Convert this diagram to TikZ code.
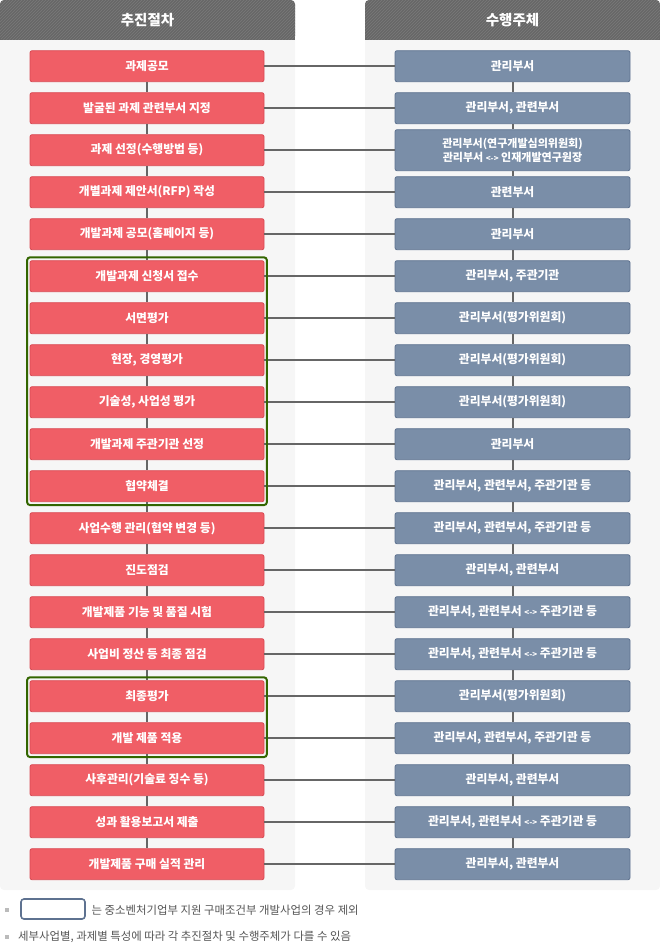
\documentclass[tikz,border=0pt]{standalone}
\usepackage{fontspec}
\setmainfont{Noto Sans CJK KR}
\usetikzlibrary{fit,patterns}
\definecolor{redF}{HTML}{F05E66}
\definecolor{redD}{HTML}{D94A53}
\definecolor{bluF}{HTML}{7A8EA8}
\definecolor{bluD}{HTML}{5E7290}
\definecolor{hdrF}{HTML}{676767}
\definecolor{hdrL}{HTML}{7A7A7A}
\definecolor{panF}{HTML}{F6F6F6}
\definecolor{lineC}{HTML}{666666}
\definecolor{grnC}{HTML}{336600}
\definecolor{txtC}{HTML}{555555}
\definecolor{bulC}{HTML}{BBBBBB}
\tikzset{
  lbox/.style={rectangle, fill=redF, draw=redD, line width=0.8pt, minimum width=234pt, minimum height=31pt, rounded corners=2pt, inner sep=0pt, text=white, font=\bfseries\fontsize{11.8}{13}\selectfont, align=center},
  rbox/.style={rectangle, fill=bluF, draw=bluD, line width=0.8pt, minimum width=235pt, minimum height=31pt, rounded corners=2pt, inner sep=0pt, text=white, font=\bfseries\fontsize{11.8}{13}\selectfont, align=center},
  conn/.style={draw=lineC, line width=2pt},
  gframe/.style={draw=grnC, line width=2pt, rounded corners=3pt, inner xsep=2.5pt, inner ysep=3pt},
  hdr/.style={text=white, font=\bfseries\fontsize{14.5}{16}\selectfont},
  note/.style={text=txtC, font=\fontsize{11.4}{13}\selectfont, anchor=west, inner sep=0pt},
  bul/.style={fill=bulC, draw=none, minimum size=4pt, inner sep=0pt},
}
\newcommand{\arr}{{\fontsize{8}{10}\selectfont <->}}
\begin{document}
\begin{tikzpicture}[x=1pt,y=-1pt]
\useasboundingbox (0,0) rectangle (660,952);
% panels
\fill[panF, rounded corners=4pt] (0,30) rectangle (295,890);
\fill[panF, rounded corners=4pt] (365,30) rectangle (660,890);
% headers
\fill[hdrF, rounded corners=4pt] (0,0) rectangle (295,40);
\fill[hdrF] (0,30) rectangle (295,40);
\fill[pattern=north east lines, pattern color=hdrL, rounded corners=4pt] (0,0) rectangle (295,40);
\fill[hdrF, rounded corners=4pt] (365,0) rectangle (660,40);
\fill[hdrF] (365,30) rectangle (660,40);
\fill[pattern=north east lines, pattern color=hdrL, rounded corners=4pt] (365,0) rectangle (660,40);
\node[hdr] (h1) at (147.5,20) {추진절차};
\node[hdr] (h2) at (512.5,20) {수행주체};
% left boxes
\foreach \i/\t in {0/과제공모, 1/발굴된 과제 관련부서 지정, 2/과제 선정(수행방법 등), 3/개별과제 제안서(RFP) 작성, 4/개발과제 공모(홈페이지 등), 5/개발과제 신청서 접수, 6/서면평가, 7/{현장, 경영평가}, 8/{기술성, 사업성 평가}, 9/개발과제 주관기관 선정, 10/협약체결, 11/사업수행 관리(협약 변경 등), 12/진도점검, 13/개발제품 기능 및 품질 시험, 14/사업비 정산 등 최종 점검, 15/최종평가, 16/개발 제품 적용, 17/사후관리(기술료 징수 등), 18/성과 활용보고서 제출, 19/개발제품 구매 실적 관리}
  \node[lbox] (l\i) at (147,66.2+42*\i) {\t};
% right boxes
\foreach \i/\t in {0/관리부서, 1/{관리부서, 관련부서}, 3/관련부서, 4/관리부서, 5/{관리부서, 주관기관}, 6/관리부서(평가위원회), 7/관리부서(평가위원회), 8/관리부서(평가위원회), 9/관리부서, 10/{관리부서, 관련부서, 주관기관 등}, 11/{관리부서, 관련부서, 주관기관 등}, 12/{관리부서, 관련부서}, 13/{관리부서, 관련부서 \arr{} 주관기관 등}, 14/{관리부서, 관련부서 \arr{} 주관기관 등}, 15/관리부서(평가위원회), 16/{관리부서, 관련부서, 주관기관 등}, 17/{관리부서, 관련부서}, 18/{관리부서, 관련부서 \arr{} 주관기관 등}, 19/{관리부서, 관련부서}}
  \node[rbox] (r\i) at (512.5,66.2+42*\i) {\t};
\node[rbox, minimum height=41pt, font=\bfseries\fontsize{11}{14.5}\selectfont] (r2) at (512.5,150.2) {관리부서(연구개발심의위원회)\\관리부서 \arr{} 인재개발연구원장};
% connectors
\foreach \i [evaluate=\i as \j using int(\i+1)] in {0,...,18} {
  \draw[conn] (l\i.south) -- (l\j.north);
  \draw[conn] (r\i.south) -- (r\j.north);
}
\foreach \i in {0,...,19}
  \draw[conn] (l\i.east) -- (l\i.east -| r\i.west);
% green frames
\node[gframe, fit=(l5)(l10)] (g1) {};
\node[gframe, fit=(l15)(l16)] (g2) {};
% legend
\node[bul] (b1) at (6.5,910) {};
\node[rectangle, draw=bluD, line width=1.6pt, fill=white, rounded corners=3pt, minimum width=64pt, minimum height=20pt, inner sep=0pt] (lg) at (53,909) {};
\node[note] (n1) at (91.5,910) {는 중소벤처기업부 지원 구매조건부 개발사업의 경우 제외};
\node[bul] (b2) at (6.5,937) {};
\node[note] (n2) at (18,937) {세부사업별, 과제별 특성에 따라 각 추진절차 및 수행주체가 다를 수 있음};
\end{tikzpicture}
\end{document}
